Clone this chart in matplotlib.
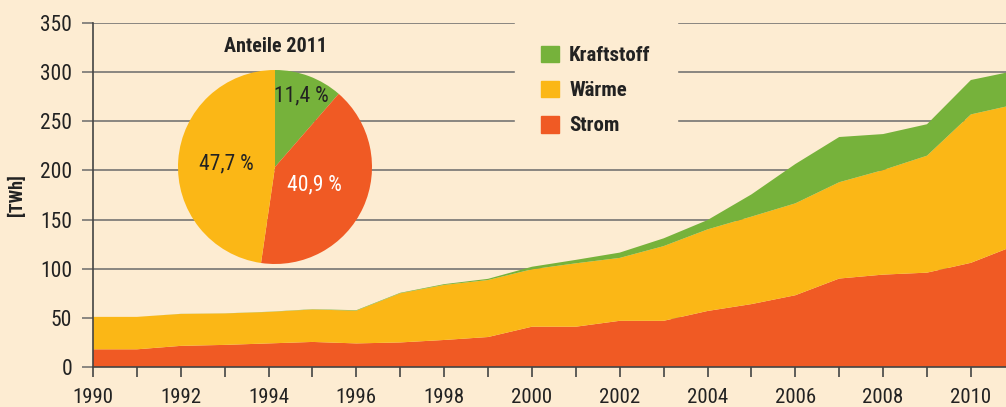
import matplotlib
matplotlib.use('Agg')
import matplotlib.pyplot as plt
from matplotlib.patches import Patch
import numpy as np

# renewable energy in Germany by sector [TWh]
years = list(range(1990, 2012))
strom = [18, 18, 21.5, 22.5, 24, 25.5, 24, 25, 27.5, 30.5,
         41, 41, 47, 47, 57, 64, 73, 90, 94, 96, 106, 123.5]
waerme = [33, 33, 32.5, 32, 32, 33, 33.3, 50, 56, 58,
          58.4, 64.5, 64, 76, 83, 89, 93.5, 98, 106.4, 119, 151, 143.5]
kraftstoff = [0, 0, 0.1, 0.1, 0.2, 0.3, 0.5, 0.5, 0.8, 1.2,
              2.6, 3.5, 5.4, 7.9, 9.5, 22.6, 40, 46, 36.6, 32, 35, 34.3]

# shares 2011 [%]
pie_labels = ['Kraftstoff', 'Strom', 'Wärme']
pie_shares = [11.4, 40.9, 47.7]

bg = '#fdecd2'
green = '#76b23b'
yellow = '#fbb716'
red = '#f05a24'
grid_col = '#6a6a6a'
narrow = ['Liberation Sans Narrow', 'Roboto Condensed', 'Roboto', 'DejaVu Sans']

plt.rcParams['font.family'] = narrow

fig = plt.figure(figsize=(10.06, 4.07), dpi=100, facecolor=bg)
ax = fig.add_axes([93 / 1006, 1 - 367 / 407, 913 / 1006, 344 / 407])
ax.set_facecolor(bg)

ax.stackplot(years, strom, waerme, kraftstoff, colors=[red, yellow, green], lw=0)

ax.set_xlim(1990, 2010.8)
ax.set_ylim(0, 350)
ax.set_yticks(range(0, 351, 50))
ax.set_xticks(range(1990, 2011, 2))
ax.set_xticks(range(1991, 2011, 2), minor=True)
ax.yaxis.grid(True, color=grid_col, lw=1.1)
ax.set_axisbelow(True)

for s in ['top', 'right']:
    ax.spines[s].set_visible(False)
for s in ['left', 'bottom']:
    ax.spines[s].set_color('#444444')
    ax.spines[s].set_linewidth(1.2)
    ax.spines[s].set_zorder(5)

ax.tick_params(axis='x', which='both', direction='out', length=7, width=1.2,
               color='#444444', labelsize=15, labelcolor='#222222', pad=8)
ax.tick_params(axis='y', direction='out', length=8, width=1.1, color=grid_col,
               labelsize=15.5, labelcolor='#222222', pad=7)
ax.set_ylabel('[TWh]', fontsize=13, fontweight='bold', color='#222222', labelpad=10)

# legend, opaque so it hides the gridlines
handles = [Patch(color=green), Patch(color=yellow), Patch(color=red)]
leg = ax.legend(handles, ['Kraftstoff', 'Wärme', 'Strom'], loc='upper left',
                bbox_to_anchor=((515 - 93) / 913, 1.01), frameon=True,
                facecolor=bg, edgecolor=bg, framealpha=1, fancybox=False,
                prop={'size': 15, 'weight': 'bold'}, handlelength=0.85,
                handleheight=0.85, handletextpad=0.5, labelspacing=0.75,
                borderpad=1.25, borderaxespad=0)
for t in leg.get_texts():
    t.set_color('#222222')
leg.set_zorder(6)

# pie of shares in 2011
pax = fig.add_axes([178 / 1006, 1 - 264 / 407, 194 / 1006, 194 / 407])
wedges, _ = pax.pie(pie_shares, colors=[green, red, yellow], startangle=90,
                    counterclock=False, radius=1.0)
pax.set_xlim(-1, 1)
pax.set_ylim(-1, 1)
pax.set_aspect('equal')
dists = [0.78, 0.45, 0.5]
tcols = ['#222222', 'white', '#222222']
for w, v, d, c in zip(wedges, pie_shares, dists, tcols):
    ang = np.deg2rad((w.theta1 + w.theta2) / 2)
    pax.text(d * np.cos(ang), d * np.sin(ang), f'{v:.1f} %'.replace('.', ','),
             ha='center', va='center', fontsize=15.5, color=c)
pax.set_title('Anteile 2011', fontsize=14.5, fontweight='bold', color='#222222', pad=13)

fig.savefig('out.png', dpi=100, facecolor=bg)
